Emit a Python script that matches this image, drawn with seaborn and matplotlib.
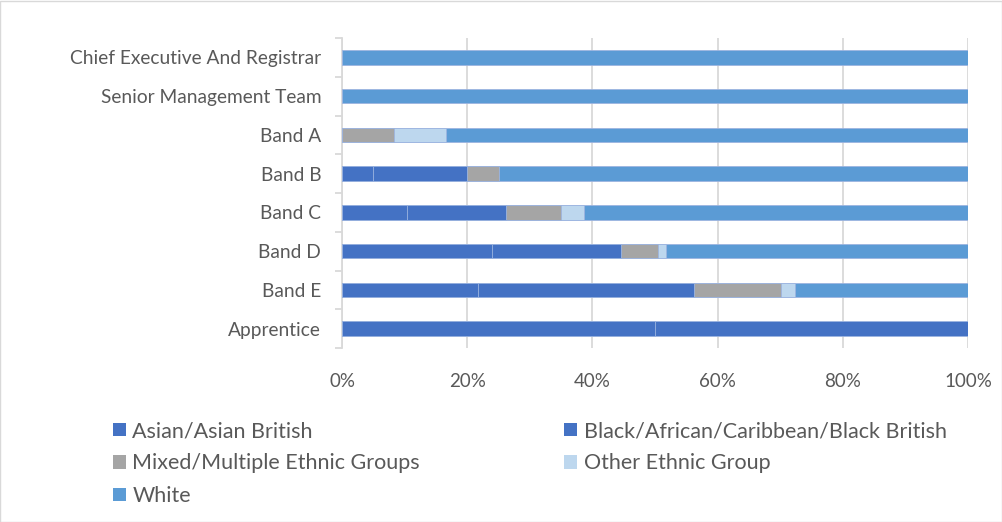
import matplotlib
matplotlib.use("Agg")
import matplotlib.pyplot as plt
import seaborn as sns
import pandas as pd
import numpy as np
from matplotlib.patches import Patch, Rectangle

categories = ["Chief Executive And Registrar", "Senior Management Team", "Band A", "Band B",
              "Band C", "Band D", "Band E", "Apprentice"]
series_names = ["Asian/Asian British", "Black/African/Caribbean/Black British",
                "Mixed/Multiple Ethnic Groups", "Other Ethnic Group", "White"]
asian = [0, 0, 0, 5.0, 10.4, 24.0, 21.8, 50.0]
black = [0, 0, 0, 15.0, 15.8, 20.5, 34.4, 50.0]
mixed = [0, 0, 8.3, 5.0, 8.8, 6.0, 13.9, 0]
other = [0, 0, 8.3, 0, 3.6, 1.3, 2.3, 0]
white = [100, 100, 83.4, 75.0, 61.4, 48.2, 27.6, 0]
xticks = [0, 20, 40, 60, 80, 100]
xticklabels = ["0%", "20%", "40%", "60%", "80%", "100%"]

colors = ["#4472C4", "#4472C4", "#A5A5A5", "#BDD7EE", "#5B9BD5"]

sns.set_theme(style="white")
plt.rcParams['font.family'] = ['Lato', 'DejaVu Sans']
text_color = "#595959"

df = pd.DataFrame({"cat": categories, series_names[0]: asian, series_names[1]: black,
                   series_names[2]: mixed, series_names[3]: other, series_names[4]: white})
vals = df[series_names].to_numpy()
cum = np.cumsum(vals, axis=1)

fig = plt.figure(figsize=(10.03, 5.22), dpi=100)
ax = fig.add_axes([342/1003, 1-348/522, (968-342)/1003, (348-38)/522])

for i in range(len(series_names)-1, -1, -1):
    d = pd.DataFrame({"cat": categories, "v": cum[:, i]})
    d = d[df[series_names[i]] > 0]
    sns.barplot(data=d, x="v", y="cat", order=categories, color=colors[i], orient="h",
                width=0.37, edgecolor="#9DB5E0", linewidth=0.6, saturation=1, ax=ax, zorder=3)

ax.set_xlim(0, 100)
ax.set_ylim(7.5, -0.5)
ax.set_xticks(xticks)
ax.set_xticklabels(xticklabels)
ax.set_xlabel("")
ax.set_ylabel("")
ax.grid(axis="x", color="#D9D9D9", linewidth=1.3, zorder=0)
for s in ["top", "right", "bottom"]:
    ax.spines[s].set_visible(False)
ax.spines["left"].set_color("#D9D9D9")
ax.spines["left"].set_linewidth(1.3)
ax.tick_params(axis="x", length=0, labelsize=13.5, colors=text_color, pad=18)
ax.tick_params(axis="y", length=0, labelsize=13.8, colors=text_color, pad=15)
ax.set_yticks(np.arange(-0.5, 8, 1), minor=True)
ax.tick_params(axis="y", which="minor", length=5, color="#D9D9D9", width=1.3, left=True)

handles = [Patch(facecolor=colors[i], edgecolor="none") for i in [0, 2, 4, 1, 3]]
labels = [series_names[i] for i in [0, 2, 4, 1, 3]]
leg = fig.legend(handles, labels, loc="upper left", bbox_to_anchor=(113/1003, 1-421/522),
                 ncol=2, frameon=False, fontsize=15.5, handlelength=0.6, handleheight=0.6,
                 handletextpad=0.3, columnspacing=6.7, labelspacing=0.58, borderaxespad=0,
                 borderpad=0)
for t in leg.get_texts():
    t.set_color(text_color)

fig.patches.append(Rectangle((0.5/1003, 0.5/522), 1-1/1003, 1-1/522, transform=fig.transFigure,
                             fill=False, edgecolor="#D9D9D9", linewidth=1))
fig.savefig("out.png", dpi=100, facecolor="white")
